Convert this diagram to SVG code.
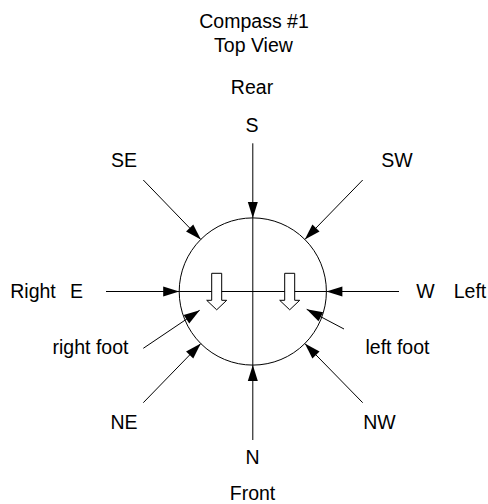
<svg xmlns="http://www.w3.org/2000/svg" width="488" height="504" viewBox="0 0 488 504">
<style>
text{font-family:"Liberation Sans",Arial,sans-serif;font-size:19.5px;fill:#000;text-anchor:middle}
.ln{stroke:#000;stroke-width:1;fill:none}
.ar{stroke:#000;stroke-width:1;fill:none;marker-end:url(#ah)}
.foot{fill:#fff;stroke:#000;stroke-width:1}
</style>
<defs>
<marker id="ah" markerUnits="userSpaceOnUse" markerWidth="16" markerHeight="10" refX="16" refY="5" orient="auto" overflow="visible">
<path d="M0,0 L16,5 L0,10 z" fill="#000"/>
</marker>
</defs>
<rect width="488" height="504" fill="#fff"/>
<g id="title">
<text x="254" y="28">Compass #1</text>
<text x="253.5" y="52">Top View</text>
</g>
<g id="compass">
<circle cx="252.8" cy="291.5" r="73.6" class="ln"/>
<line x1="252.8" y1="217.9" x2="252.8" y2="365.1" class="ln"/>
<line x1="179.2" y1="291.5" x2="326.4" y2="291.5" class="ln"/>
</g>
<g id="right-foot">
<polygon class="foot" points="211.7,273.3 221.7,273.3 221.7,300.3 226.7,300.3 216.7,309.8 206.7,300.3 211.7,300.3"/>
</g>
<g id="left-foot">
<polygon class="foot" points="284.7,273.3 294.7,273.3 294.7,300.3 299.7,300.3 289.7,309.8 279.7,300.3 284.7,300.3"/>
</g>
<g id="labels">
<text x="252" y="94">Rear</text>
<text x="252" y="132">S</text>
<text x="124" y="167">SE</text>
<text x="397" y="167">SW</text>
<text x="33" y="297.5">Right</text>
<text x="76.5" y="297.5">E</text>
<text x="425.5" y="297.5">W</text>
<text x="470" y="297.5">Left</text>
<text x="90.5" y="353.5">right foot</text>
<text x="397.5" y="353.5">left foot</text>
<text x="124" y="428.5">NE</text>
<text x="379.5" y="428.5">NW</text>
<text x="252.5" y="463.5">N</text>
<text x="252.5" y="499.5">Front</text>
</g>
<g id="connectors">
<line class="ar" x1="252.8" y1="143.3" x2="252.8" y2="217.9"/>
<line class="ar" x1="252.8" y1="440" x2="252.8" y2="365.1"/>
<line class="ar" x1="106" y1="291.5" x2="179.2" y2="291.5"/>
<line class="ar" x1="399" y1="291.5" x2="326.4" y2="291.5"/>
<line class="ar" x1="143.3" y1="180" x2="200.8" y2="239.5"/>
<line class="ar" x1="362.7" y1="180" x2="304.8" y2="239.5"/>
<line class="ar" x1="143.3" y1="402.7" x2="200.8" y2="343.5"/>
<line class="ar" x1="362.7" y1="402.7" x2="304.8" y2="343.5"/>
<line class="ar" x1="143.3" y1="348.3" x2="199.7" y2="310.3"/>
<line class="ar" x1="344" y1="329" x2="306.7" y2="309.3"/>
</g>
</svg>
